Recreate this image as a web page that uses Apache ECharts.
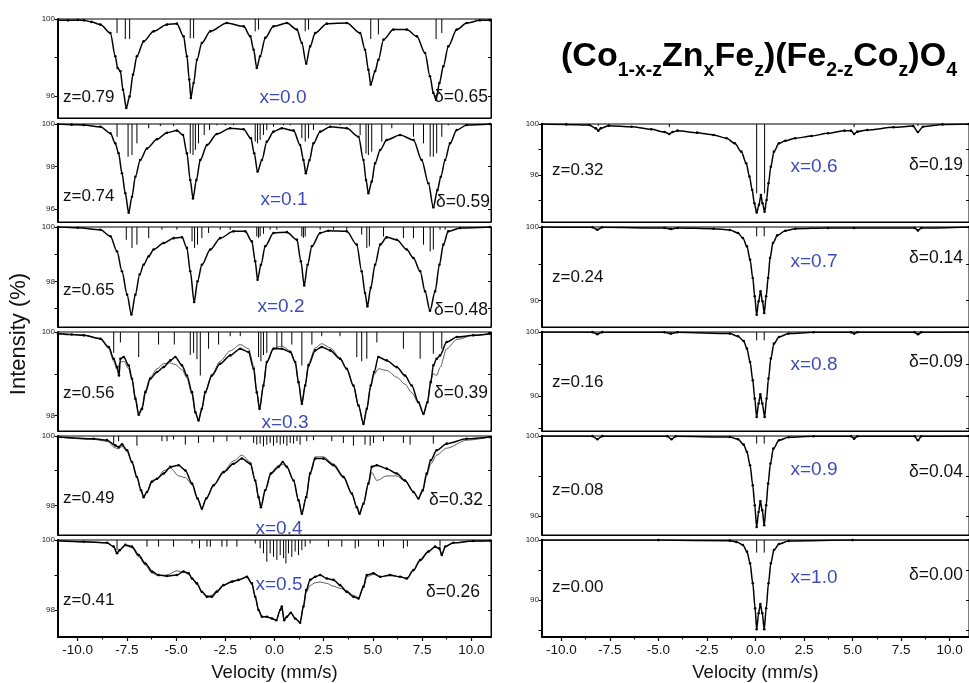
<!DOCTYPE html>
<html><head><meta charset="utf-8">
<script src="https://cdn.jsdelivr.net/npm/echarts@6.0.0/dist/echarts.min.js"></script>
<style>html,body{margin:0;padding:0;background:#fff}#c{width:969px;height:683px}</style>
</head><body><div id="c"></div>
<script>
// ---------------- DATA (velocity mm/s, transmission %) ----------------
const specX00 = [[-11,99.95],[-10.5,99.93],[-10,99.95],[-9.69,99.93],[-9.3,99.85],[-8.85,99.71],[-8.34,99.27],[-8.09,98.07],[-7.97,97.46],[-7.83,97.29],[-7.7,96.34],[-7.53,95.39],[-7.36,95.99],[-7.19,97.12],[-6.99,98.07],[-6.65,98.84],[-6.14,99.36],[-5.46,99.71],[-4.96,99.76],[-4.62,99.1],[-4.45,98.07],[-4.33,96.86],[-4.25,95.91],[-4.11,96.68],[-3.94,97.89],[-3.69,98.76],[-3.26,99.36],[-2.42,99.79],[-1.57,99.62],[-1.23,99.1],[-1.06,98.41],[-0.9,97.46],[-0.73,98.07],[-0.47,99.02],[-0.05,99.62],[0.63,99.79],[1.14,99.45],[1.39,98.76],[1.61,97.69],[1.81,98.58],[2.07,99.27],[2.66,99.76],[3.67,99.79],[4.35,99.27],[4.6,98.41],[4.77,97.37],[4.89,96.6],[5.11,97.29],[5.28,97.89],[5.54,98.93],[6.04,99.45],[6.72,99.45],[7.23,99.1],[7.65,98.24],[7.9,97.03],[8.07,96.17],[8.21,95.82],[8.38,96.68],[8.58,97.55],[8.83,98.58],[9.26,99.45],[9.77,99.79],[10.44,99.93],[10.95,99.93]];
const specX01 = [[-11,100],[-10.3,99.97],[-9.69,99.95],[-8.85,99.87],[-8.34,99.56],[-8.09,99.09],[-7.92,98.62],[-7.75,97.68],[-7.58,96.74],[-7.41,95.83],[-7.24,96.58],[-7.07,97.52],[-6.82,98.31],[-6.48,98.85],[-5.97,99.28],[-5.46,99.59],[-4.96,99.69],[-4.65,99.48],[-4.45,98.62],[-4.28,97.36],[-4.14,96.5],[-3.97,97.36],[-3.77,98.31],[-3.43,99.01],[-2.93,99.53],[-2.25,99.8],[-1.57,99.75],[-1.2,99.33],[-1.03,98.62],[-0.86,97.76],[-0.64,98.31],[-0.39,99.17],[-0.05,99.64],[0.37,99.8],[0.97,99.69],[1.3,99.01],[1.47,98.31],[1.59,97.68],[1.78,98.31],[1.98,99.09],[2.32,99.64],[2.83,99.87],[3.67,99.8],[4.27,99.4],[4.52,98.31],[4.65,97.36],[4.77,96.74],[4.94,97.29],[5.11,98.15],[5.37,98.78],[5.7,99.25],[6.38,99.48],[7.06,99.25],[7.48,98.31],[7.82,97.21],[8.07,96.08],[8.28,96.89],[8.45,97.52],[8.67,98.31],[8.92,99.09],[9.26,99.72],[9.77,99.95],[10.95,100]];
const specX02 = [[-11,100],[-10,99.97],[-8.85,99.9],[-8.34,99.66],[-8.0,99.1],[-7.75,98.37],[-7.49,97.51],[-7.27,96.78],[-7.07,97.51],[-6.85,98.25],[-6.65,98.61],[-6.39,98.92],[-6.14,99.17],[-5.63,99.41],[-5.13,99.59],[-4.7,99.62],[-4.45,99.23],[-4.28,98.37],[-4.08,97.24],[-3.91,98.0],[-3.69,98.61],[-3.26,99.17],[-2.76,99.59],[-2.08,99.84],[-1.49,99.84],[-1.15,99.47],[-0.98,98.74],[-0.86,98.06],[-0.69,98.61],[-0.47,99.29],[-0.05,99.78],[0.63,99.81],[1.14,99.53],[1.34,98.74],[1.51,97.85],[1.68,98.61],[1.9,99.29],[2.32,99.78],[2.74,99.86],[3.67,99.84],[4.18,99.35],[4.43,98.37],[4.6,97.57],[4.72,97.08],[4.89,97.76],[5.11,98.61],[5.37,99.35],[5.7,99.62],[6.21,99.53],[6.72,99.17],[7.06,98.86],[7.4,98.37],[7.65,97.63],[7.9,96.92],[8.16,97.63],[8.38,98.61],[8.58,99.35],[8.83,99.84],[9.43,99.96],[10.95,100]];
const specX03 = [[-11,99.96],[-10.3,99.94],[-9.69,99.92],[-8.85,99.84],[-8.42,99.64],[-8.17,99.36],[-8.0,99.16],[-7.9,98.96],[-7.83,99.36],[-7.66,99.4],[-7.41,99.2],[-7.24,98.88],[-7.07,98.4],[-6.9,98.02],[-6.73,98.16],[-6.56,98.56],[-6.31,98.88],[-5.97,99.04],[-5.63,99.16],[-5.29,99.32],[-5.04,99.4],[-4.7,99.2],[-4.45,98.96],[-4.19,98.56],[-4.02,98.08],[-3.86,97.88],[-3.69,98.16],[-3.52,98.56],[-3.18,98.96],[-2.76,99.24],[-2.25,99.44],[-1.74,99.6],[-1.32,99.52],[-1.06,99.12],[-0.9,98.56],[-0.76,98.16],[-0.56,98.72],[-0.39,99.28],[-0.05,99.6],[0.37,99.6],[0.8,99.52],[1.05,99.28],[1.22,98.8],[1.39,98.28],[1.56,98.72],[1.73,99.2],[2.07,99.56],[2.4,99.64],[2.83,99.56],[3.33,99.36],[3.67,99.12],[4.01,98.72],[4.27,98.24],[4.52,97.8],[4.69,98.16],[4.89,98.72],[5.06,99.04],[5.28,99.4],[5.7,99.32],[6.21,99.16],[6.63,98.96],[6.97,98.72],[7.31,98.32],[7.57,98.04],[7.77,98.32],[7.94,98.8],[8.07,99.2],[8.24,99.36],[8.41,99.44],[8.75,99.76],[9.26,99.88],[10.1,99.92],[10.95,99.96]];
const specX04 = [[-11,99.97],[-9.19,99.92],[-8.51,99.88],[-8.09,99.73],[-7.92,99.68],[-7.75,99.76],[-7.49,99.59],[-7.24,99.25],[-6.99,98.82],[-6.78,98.44],[-6.65,98.24],[-6.48,98.39],[-6.23,98.68],[-5.97,98.77],[-5.63,98.92],[-5.29,99.11],[-4.87,99.16],[-4.53,99.01],[-4.19,98.63],[-3.91,98.2],[-3.69,97.91],[-3.47,98.2],[-3.09,98.58],[-2.59,98.96],[-2.08,99.2],[-1.66,99.35],[-1.23,99.2],[-0.98,98.72],[-0.81,98.24],[-0.69,97.95],[-0.47,98.44],[-0.18,98.92],[0.2,99.11],[0.42,99.25],[0.63,99.11],[0.97,98.72],[1.22,98.15],[1.39,97.76],[1.61,98.24],[1.81,98.92],[2.07,99.35],[2.49,99.35],[3.0,99.16],[3.5,98.82],[3.93,98.34],[4.18,97.95],[4.32,97.76],[4.52,98.05],[4.77,98.63],[4.94,99.11],[5.2,99.16],[5.7,99.06],[6.21,98.92],[6.63,98.72],[7.06,98.39],[7.31,98.2],[7.53,98.44],[7.73,98.92],[7.94,99.3],[8.24,99.59],[8.75,99.78],[9.77,99.92],[10.95,99.97]];
const specX05 = [[-11,99.98],[-9.69,99.95],[-8.51,99.92],[-8.17,99.81],[-8.0,99.62],[-7.87,99.71],[-7.58,99.86],[-7.24,99.81],[-6.9,99.57],[-6.56,99.33],[-6.22,99.1],[-5.89,99.0],[-5.46,98.97],[-4.96,99.0],[-4.62,99.1],[-4.36,99.05],[-4.19,98.9],[-3.94,98.76],[-3.69,98.52],[-3.43,98.38],[-3.18,98.38],[-2.93,98.52],[-2.59,98.71],[-2.16,98.81],[-1.83,98.86],[-1.4,98.95],[-1.15,98.76],[-0.98,98.38],[-0.81,98.0],[-0.64,97.81],[-0.39,97.81],[-0.13,97.76],[0.09,97.71],[0.29,98.0],[0.37,98.1],[0.49,97.71],[0.63,97.81],[0.83,97.92],[1.05,97.76],[1.3,97.64],[1.47,98.1],[1.61,98.57],[1.81,98.86],[2.07,98.95],[2.32,99.0],[2.66,98.9],[3.0,98.86],[3.33,98.71],[3.67,98.52],[4.01,98.38],[4.27,98.33],[4.52,98.67],[4.69,99.0],[5.03,99.05],[5.37,98.95],[5.87,99.0],[6.38,98.95],[6.72,98.9],[7.06,99.14],[7.4,99.43],[7.82,99.67],[8.16,99.81],[8.38,99.76],[8.5,99.57],[8.67,99.81],[9.09,99.92],[10.1,99.97],[10.95,99.98]];
const specX06 = [[-11,100],[-9.75,99.97],[-8.57,99.92],[-8.23,99.66],[-8.1,99.48],[-7.97,99.66],[-7.56,99.87],[-6.38,99.79],[-5.37,99.58],[-4.69,99.37],[-4.44,99.22],[-4.27,99.37],[-4.02,99.48],[-3.01,99.32],[-2.16,99.14],[-1.49,98.88],[-1.07,98.48],[-0.73,97.83],[-0.48,96.92],[-0.31,95.87],[-0.17,94.82],[-0.06,93.78],[0.06,93.05],[0.18,93.65],[0.28,94.43],[0.36,93.78],[0.47,93.12],[0.57,94.04],[0.67,95.35],[0.79,96.65],[0.95,97.83],[1.21,98.48],[1.54,98.69],[2.05,98.88],[2.89,99.06],[3.74,99.27],[4.58,99.48],[4.92,99.48],[5.08,99.22],[5.25,99.4],[5.76,99.53],[7.11,99.74],[8.12,99.84],[8.37,99.37],[8.63,99.79],[9.64,99.97],[11,100]];
const specX07 = [[-11,100],[-8.4,99.95],[-8.15,99.63],[-7.9,99.95],[-4.69,99.86],[-4.36,99.72],[-4.02,99.86],[-2.16,99.77],[-1.32,99.59],[-0.9,99.18],[-0.65,98.5],[-0.44,97.37],[-0.28,95.56],[-0.14,93.08],[-0.04,90.59],[0.06,88.1],[0.16,89.91],[0.26,91.27],[0.36,89.91],[0.45,88.33],[0.55,90.59],[0.65,93.08],[0.75,95.79],[0.9,97.82],[1.12,98.86],[1.54,99.5],[2.05,99.77],[3.74,99.86],[5.08,99.86],[8.2,99.86],[8.37,99.54],[8.54,99.86],[11,100]];
const specX08 = [[-11,100],[-8.4,99.98],[-8.15,99.64],[-7.9,99.98],[-4.69,99.95],[-4.36,99.75],[-4.02,99.95],[-1.32,99.75],[-0.9,99.33],[-0.61,98.61],[-0.44,97.41],[-0.28,95.34],[-0.14,92.49],[-0.04,89.64],[0.06,86.79],[0.16,88.86],[0.25,90.31],[0.35,88.86],[0.47,86.79],[0.57,89.64],[0.67,92.75],[0.79,95.86],[0.95,98.19],[1.21,99.23],[1.71,99.75],[3.0,99.95],[4.92,99.95],[5.08,99.75],[5.25,99.95],[8.2,99.95],[8.37,99.64],[8.54,99.95],[11,100]];
const specX09 = [[-11,100],[-8.4,99.98],[-8.15,99.59],[-7.9,99.98],[-4.55,99.96],[-4.33,99.59],[-4.1,99.96],[-1.32,99.88],[-0.9,99.59],[-0.61,98.92],[-0.44,98.0],[-0.28,96.34],[-0.14,93.84],[-0.04,91.34],[0.06,88.63],[0.16,90.5],[0.25,91.84],[0.35,90.71],[0.45,88.84],[0.55,91.34],[0.65,94.05],[0.77,96.55],[0.92,98.42],[1.21,99.46],[1.71,99.84],[3.0,99.96],[4.92,99.96],[5.08,99.67],[5.25,99.96],[8.2,99.96],[8.37,99.46],[8.54,99.96],[11,100]];
const specX10 = [[-11,100],[-5,99.98],[-1.32,99.89],[-0.98,99.67],[-0.65,99.17],[-0.44,98.06],[-0.28,96.11],[-0.14,92.78],[-0.02,88.61],[0.06,85.11],[0.16,87.78],[0.25,89.33],[0.35,87.78],[0.45,85.11],[0.55,88.61],[0.67,92.78],[0.79,96.11],[0.95,98.33],[1.21,99.33],[1.71,99.83],[5,99.98],[11,100]];

// fitted curves (visible deviations in x=0.3, 0.4, 0.5)
const fitX03 = [[-11,99.96],[-9.69,99.93],[-8.85,99.84],[-8.42,99.6],[-8.17,99.3],[-8.0,99.1],[-7.83,99.28],[-7.66,99.3],[-7.41,99.12],[-7.24,98.85],[-7.07,98.45],[-6.9,98.05],[-6.73,98.2],[-6.56,98.6],[-6.31,98.92],[-5.97,99.12],[-5.63,99.24],[-5.29,99.26],[-5.04,99.22],[-4.7,99.1],[-4.45,98.9],[-4.19,98.5],[-4.02,98.05],[-3.86,97.9],[-3.69,98.15],[-3.52,98.55],[-3.18,98.98],[-2.76,99.3],[-2.25,99.55],[-1.74,99.7],[-1.32,99.6],[-1.06,99.2],[-0.9,98.55],[-0.76,98.15],[-0.56,98.75],[-0.39,99.3],[-0.05,99.62],[0.37,99.66],[0.8,99.55],[1.05,99.3],[1.22,98.8],[1.39,98.3],[1.56,98.75],[1.73,99.25],[2.07,99.62],[2.4,99.72],[2.83,99.62],[3.33,99.38],[3.67,99.1],[4.01,98.7],[4.27,98.22],[4.52,97.82],[4.69,98.15],[4.89,98.7],[5.06,98.98],[5.28,99.12],[5.7,99.08],[6.21,98.92],[6.63,98.75],[6.97,98.55],[7.31,98.3],[7.57,98.05],[7.77,98.3],[7.94,98.85],[8.07,99.0],[8.24,98.96],[8.41,99.15],[8.75,99.6],[9.26,99.82],[10.1,99.92],[10.95,99.96]];
const fitX04 = [[-11,99.97],[-9.19,99.9],[-8.51,99.85],[-8.09,99.66],[-7.92,99.63],[-7.75,99.7],[-7.49,99.55],[-7.24,99.22],[-6.99,98.8],[-6.78,98.42],[-6.65,98.26],[-6.48,98.4],[-6.23,98.72],[-5.97,98.76],[-5.63,99.0],[-5.29,99.08],[-4.87,98.85],[-4.53,98.8],[-4.19,98.6],[-3.91,98.2],[-3.69,97.93],[-3.47,98.2],[-3.09,98.6],[-2.59,98.98],[-2.08,99.28],[-1.66,99.45],[-1.23,99.25],[-0.98,98.72],[-0.81,98.24],[-0.69,97.95],[-0.47,98.44],[-0.18,98.95],[0.2,99.15],[0.42,99.18],[0.63,99.1],[0.97,98.72],[1.22,98.15],[1.39,97.78],[1.61,98.24],[1.81,98.95],[2.07,99.4],[2.49,99.4],[3.0,99.2],[3.5,98.85],[3.93,98.34],[4.18,97.97],[4.32,97.8],[4.52,98.05],[4.77,98.6],[4.94,98.95],[5.2,98.72],[5.7,98.85],[6.21,98.85],[6.63,98.7],[7.06,98.4],[7.31,98.2],[7.53,98.4],[7.73,98.85],[7.94,99.2],[8.24,99.45],[8.75,99.65],[9.77,99.88],[10.95,99.97]];
const fitX05 = [[-11,99.98],[-9.69,99.95],[-8.51,99.92],[-8.17,99.81],[-8.0,99.62],[-7.87,99.71],[-7.58,99.84],[-7.24,99.78],[-6.9,99.52],[-6.56,99.28],[-6.22,99.05],[-5.89,98.98],[-5.46,99.0],[-4.96,99.12],[-4.62,99.08],[-4.36,99.02],[-4.19,98.9],[-3.94,98.74],[-3.69,98.52],[-3.43,98.4],[-3.18,98.42],[-2.93,98.56],[-2.59,98.72],[-2.16,98.82],[-1.83,98.86],[-1.4,98.93],[-1.15,98.76],[-0.98,98.38],[-0.81,98.0],[-0.64,97.81],[-0.39,97.81],[-0.13,97.76],[0.09,97.71],[0.29,98.0],[0.37,98.08],[0.49,97.73],[0.63,97.81],[0.83,97.92],[1.05,97.76],[1.3,97.66],[1.47,98.1],[1.61,98.5],[1.81,98.7],[2.07,98.78],[2.32,98.8],[2.66,98.76],[3.0,98.68],[3.33,98.62],[3.67,98.55],[4.01,98.42],[4.27,98.36],[4.52,98.62],[4.69,98.95],[5.03,99.02],[5.37,98.95],[5.87,98.98],[6.38,98.95],[6.72,98.9],[7.06,99.12],[7.4,99.4],[7.82,99.65],[8.16,99.8],[8.38,99.74],[8.5,99.58],[8.67,99.8],[9.09,99.92],[10.1,99.97],[10.95,99.98]];

// stick diagrams (line position, depth reached from 100 %)
const sticksX00 = [[-8.0,99.27],[-7.58,98.96],[-7.36,98.96],[-4.28,99.0],[-4.11,99.0],[-0.98,99.36],[-0.81,99.45],[1.56,99.36],[1.73,99.45],[4.89,98.96],[5.28,99.2],[8.21,98.96],[8.5,99.27]];
const sticksX01 = [[-8.0,99.4],[-7.44,98.46],[-7.24,98.54],[-6.99,99.09],[-6.39,99.8],[-5.8,99.9],[-5.13,99.9],[-4.28,98.62],[-4.14,98.54],[-4.02,98.78],[-3.86,99.09],[-3.57,99.48],[-3.3,99.72],[-2.93,99.94],[-2.5,99.94],[-2.08,99.94],[-0.98,99.17],[-0.86,99.09],[-0.73,99.25],[-0.56,99.48],[-0.39,99.72],[-0.05,99.87],[0.46,99.94],[0.8,99.94],[1.39,99.33],[1.56,99.17],[1.73,99.33],[1.98,99.72],[2.66,99.94],[3.33,99.94],[3.84,99.94],[4.35,99.48],[4.65,98.62],[4.77,98.54],[4.94,98.7],[5.45,99.17],[5.96,99.8],[7.06,99.4],[7.57,99.09],[7.91,98.46],[8.07,98.46],[8.24,98.62],[8.5,99.4],[8.83,99.94]];
const sticksX02 = [[-7.53,99.53],[-7.24,99.23],[-6.99,99.35],[-6.39,99.59],[-5.72,99.9],[-4.96,99.9],[-4.19,99.47],[-4.06,99.23],[-3.91,99.35],[-3.69,99.59],[-3.35,99.78],[-2.76,99.9],[-2.25,99.9],[-0.9,99.65],[-0.81,99.6],[-0.73,99.65],[-0.56,99.75],[-0.22,99.9],[0.12,99.9],[1.39,99.65],[1.47,99.6],[1.56,99.65],[2.32,99.9],[3.0,99.9],[3.67,99.9],[4.43,99.72],[4.69,99.23],[4.82,99.29],[5.54,99.65],[6.55,99.59],[7.06,99.59],[7.57,99.35],[7.91,99.1],[8.07,99.17],[8.41,99.9],[8.67,99.9]];
const sticksX03 = [[-8.17,99.5],[-7.83,99.75],[-6.9,99.4],[-5.89,99.7],[-5.09,99.7],[-4.28,99.45],[-4.11,99.5],[-3.94,99.35],[-3.77,98.96],[-3.35,99.6],[-2.84,99.7],[-2.25,99.9],[-1.74,99.9],[-0.81,99.4],[-0.69,99.3],[-0.56,99.45],[-0.39,99.5],[0.12,99.6],[0.37,99.65],[0.88,99.7],[1.39,99.2],[1.9,99.7],[2.4,99.9],[3.33,99.9],[4.18,99.4],[4.43,99.3],[4.69,99.36],[5.2,99.75],[6.55,99.6],[7.4,99.36],[8.07,99.48],[8.5,99.6]];
const sticksX04 = [[-8.17,99.75],[-7.92,99.85],[-6.99,99.72],[-5.72,99.85],[-5.46,99.85],[-5.13,99.9],[-4.53,99.75],[-3.86,99.8],[-3.09,99.82],[-2.42,99.85],[-1.74,99.9],[-1.06,99.8],[-0.9,99.75],[-0.73,99.78],[-0.56,99.7],[-0.39,99.75],[-0.22,99.8],[-0.05,99.72],[0.12,99.8],[0.29,99.75],[0.46,99.78],[0.63,99.72],[0.8,99.8],[0.97,99.78],[1.14,99.85],[1.3,99.75],[1.64,99.85],[1.98,99.88],[2.91,99.85],[3.5,99.8],[4.01,99.72],[4.6,99.75],[4.86,99.72],[5.03,99.8],[5.54,99.85],[6.55,99.8],[6.89,99.75],[8.07,99.78]];
const sticksX05 = [[-8.0,99.71],[-6.48,99.81],[-5.89,99.81],[-5.13,99.81],[-4.19,99.9],[-3.81,99.76],[-3.43,99.81],[-3.26,99.81],[-2.67,99.81],[-2.42,99.81],[-1.91,99.81],[-0.98,99.9],[-0.73,99.76],[-0.56,99.62],[-0.39,99.38],[-0.22,99.62],[-0.05,99.52],[0.12,99.43],[0.29,99.57],[0.46,99.48],[0.58,99.33],[0.71,99.62],[0.88,99.52],[1.05,99.67],[1.22,99.57],[1.39,99.71],[1.56,99.81],[1.81,99.9],[2.74,99.81],[3.42,99.81],[4.1,99.76],[4.27,99.81],[5.28,99.81],[5.54,99.81],[6.55,99.76],[6.75,99.81],[8.41,99.81]];
const sticksX06 = [[-8.1,99.85],[-4.44,99.75],[0.06,94.56],[0.47,94.56],[5.08,99.75],[8.37,99.85]];
const sticksX07 = [[0.06,98.73],[0.45,98.73]];
const sticksX08 = [[0.06,98.7],[0.45,98.7]];
const sticksX09 = [[0.06,99.05],[0.45,99.05]];
const sticksX10 = [[0.06,97.9],[0.45,97.9]];

// labels and ticks
const zinc = ['x=0.0','x=0.1','x=0.2','x=0.3','x=0.4','x=0.5','x=0.6','x=0.7','x=0.8','x=0.9','x=1.0'];
const zVals = ['z=0.79','z=0.74','z=0.65','z=0.56','z=0.49','z=0.41','z=0.32','z=0.24','z=0.16','z=0.08','z=0.00'];
const deltas = ['δ=0.65','δ=0.59','δ=0.48','δ=0.39','δ=0.32','δ=0.26','δ=0.19','δ=0.14','δ=0.09','δ=0.04','δ=0.00'];
const yMin = [94.87,95.39,96.32,97.63,97.15,97.23,92.31,86.43,84.6,87.63,83.83];
const yMax = 100;
const yTicks = [[96,98,100],[96,98,100],[97,98,99,100],[98,99,100],[98,99,100],[98,99,100],[94,96,98,100],[90,95,100],[85,90,95,100],[90,95,100],[85,90,95,100]];
const yTickLabels = [[96,100],[96,98,100],[98,100],[98,100],[98,100],[98,100],[96,100],[90,100],[90,100],[90,100],[90,100]];
const xRange = [-11, 11];
const xTicks = [-10,-7.5,-5,-2.5,0,2.5,5,7.5,10];
const xMinorTicks = [-8.75,-6.25,-3.75,-1.25,1.25,3.75,6.25,8.75];

// ---------------- LAYOUT ----------------
const spectra = [specX00,specX01,specX02,specX03,specX04,specX05,specX06,specX07,specX08,specX09,specX10];
const fits = {3: fitX03, 4: fitX04, 5: fitX05};
const sticks = [sticksX00,sticksX01,sticksX02,sticksX03,sticksX04,sticksX05,sticksX06,sticksX07,sticksX08,sticksX09,sticksX10];
const boxes = [[58,19,433,99],[58,124,433,98],[58,227,433,100],[58,332,433,99],[58,436,433,99],[58,540,433,97],
               [542,124,435,98],[542,227,435,100],[542,332,435,99],[542,436,435,99],[542,540,435,97]];
const posZ = [[63,97],[63,196],[63,290],[63,393],[63,498],[63,600],[552,170],[552,277],[552,382],[552,490],[552,587]];
const posX = [[283,98],[284,200],[281,307],[285,423],[279,529],[279,585],[814,167],[814,262],[814,365],[814,470],[814,578]];
const posD = [[488,97],[490,202],[488,310],[488,393],[483,500],[480,592],[963,165],[963,258],[963,362],[963,472],[963,575]];
const FONT = '"Liberation Sans", Arial, sans-serif';
const BLUE = '#3d4db7';

const grids = [], xAxes = [], yAxes = [], series = [], graphics = [];
boxes.forEach((b, i) => {
  grids.push({left:b[0], top:b[1], width:b[2], height:b[3], show:true, borderColor:'#000', borderWidth:1});
  const bottom = (i === 5 || i === 10);
  xAxes.push({type:'value', gridIndex:i, min:xRange[0], max:xRange[1], position:'bottom',
    axisLine:{show:true, onZero:false, lineStyle:{color:'#000', width: bottom ? 2 : 1}},
    axisTick:{show:bottom, inside:false, length:4, customValues:xTicks, lineStyle:{color:'#000', width:1.2}},
    splitLine:{show:false},
    axisLabel:{show:bottom, customValues:xTicks, fontSize:13.5, fontFamily:FONT, color:'#111', margin:6,
      formatter: v => Number(v).toFixed(1)},
    name: bottom ? 'Velocity (mm/s)' : '', nameLocation:'middle', nameGap:26,
    nameTextStyle:{fontSize:18.5, fontFamily:FONT, color:'#111'}
  });
  const labs = yTickLabels[i];
  yAxes.push({type:'value', gridIndex:i, min:yMin[i], max:yMax, position:'left',
    axisLine:{show:true, onZero:false, lineStyle:{color:'#000', width:2}},
    axisTick:{show:true, inside:false, length:3.5, customValues:yTicks[i], lineStyle:{color:'#000'}},
    splitLine:{show:false},
    axisLabel:{customValues:labs, fontSize:8, fontFamily:FONT, color:'#222', margin:3,
      formatter: v => String(Math.round(v))}
  });
});
// minor x ticks on bottom panels
[5, 10].forEach(i => {
  xAxes.push({type:'value', gridIndex:i, min:xRange[0], max:xRange[1], position:'bottom',
    axisLine:{show:false, onZero:false}, splitLine:{show:false}, axisLabel:{show:false},
    axisTick:{show:true, inside:false, length:2.5, customValues:xMinorTicks, lineStyle:{color:'#000'}}});
});
// mirrored ticks on the right border
boxes.forEach((b, i) => {
  yAxes.push({type:'value', gridIndex:i, min:yMin[i], max:yMax, position:'right',
    axisLine:{show:true, onZero:false, lineStyle:{color:'#000', width:1}},
    axisTick:{show:true, inside:true, length:3, customValues:yTicks[i], lineStyle:{color:'#000'}},
    splitLine:{show:false}, axisLabel:{show:false}});
});

spectra.forEach((d, i) => {
  series.push({type:'line', name:'data'+i, xAxisIndex:i, yAxisIndex:i, data:d, smooth:0.3, smoothMonotone:'x',
    symbol:'circle', symbolSize:2.6, showAllSymbol:true, silent:true, z:4,
    lineStyle:{color:'#000', width:1.5}, itemStyle:{color:'#000'}});
  if (fits[i]) {
    series.push({type:'line', name:'fit'+i, xAxisIndex:i, yAxisIndex:i, data:fits[i], smooth:0.3, smoothMonotone:'x',
      symbol:'none', silent:true, z:3, lineStyle:{color:'#333', width:0.8}});
  }
  series.push({type:'custom', name:'sticks'+i, xAxisIndex:i, yAxisIndex:i, data:sticks[i], silent:true, z:2,
    encode:{x:0, y:1},
    renderItem:(params, api) => {
      const p0 = api.coord([api.value(0), yMax]);
      const p1 = api.coord([api.value(0), api.value(1)]);
      return {type:'line', shape:{x1:p0[0], y1:p0[1], x2:p1[0], y2:p1[1]}, style:{stroke:'#000', lineWidth:1}};
    }});
  graphics.push({type:'text', x:posZ[i][0], y:posZ[i][1], silent:true, z:10,
    style:{text:zVals[i], font:'17px '+FONT, fill:'#111', align:'left', verticalAlign:'middle'}});
  graphics.push({type:'text', x:posX[i][0], y:posX[i][1], silent:true, z:10,
    style:{text:zinc[i], font:'19px '+FONT, fill:BLUE, align:'center', verticalAlign:'middle'}});
  graphics.push({type:'text', x:posD[i][0], y:posD[i][1], silent:true, z:10,
    style:{text:deltas[i], font:'17.5px '+FONT, fill:'#111', align:'right', verticalAlign:'middle'}});
});
graphics.push({type:'text', x:19, y:334, rotation:Math.PI/2, silent:true,
  style:{text:'Intensity (%)', font:'22px '+FONT, fill:'#111', align:'center', verticalAlign:'middle'}});

const chart = echarts.init(document.getElementById('c'), null, {renderer:'canvas'});
chart.setOption({
  animation:false,
  backgroundColor:'#fff',
  title:{left:561, top:33, padding:0,
    text:'{m|(Co}{s|1-x-z}{m|Zn}{s|x}{m|Fe}{s|z}{m|)(Fe}{s|2-z}{m|Co}{s|z}{m|)O}{s|4}',
    textStyle:{rich:{
      m:{fontSize:34, fontWeight:'bold', fontFamily:FONT, color:'#000', lineHeight:48, verticalAlign:'middle'},
      s:{fontSize:19.5, fontWeight:'bold', fontFamily:FONT, color:'#000', lineHeight:20, verticalAlign:'bottom'}
    }}},
  grid:grids, xAxis:xAxes, yAxis:yAxes, series:series, graphic:graphics
});
</script></body></html>
